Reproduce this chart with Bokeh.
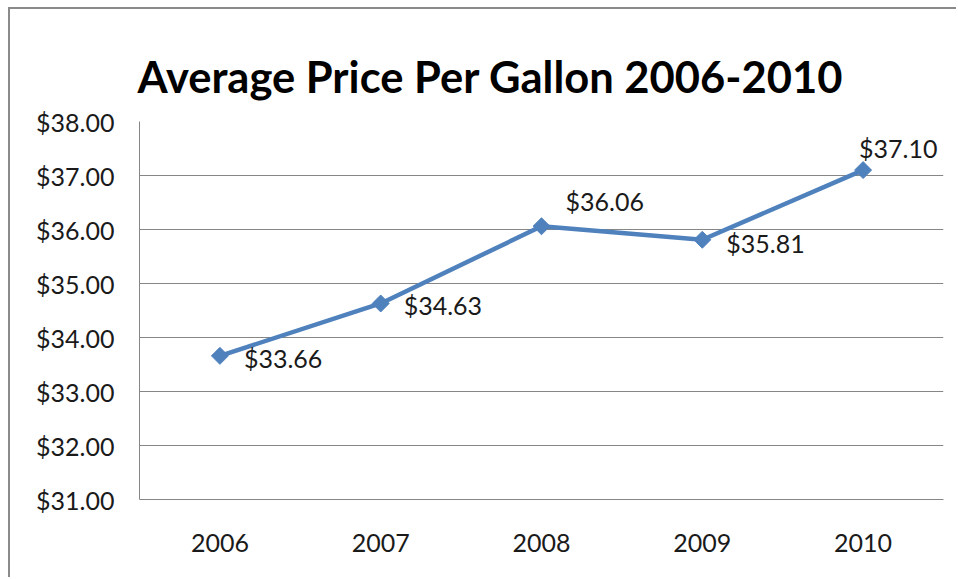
from bokeh.plotting import figure
from bokeh.models import ColumnDataSource, FixedTicker, NumeralTickFormatter, Range1d
from bokeh.core.properties import value
from bokeh.embed import file_html
from bokeh.resources import INLINE
import math

title_text = "Average Price Per Gallon 2006-2010"
years = ["2006", "2007", "2008", "2009", "2010"]
prices = [33.66, 34.63, 36.06, 35.81, 37.10]
price_labels = ["$33.66", "$34.63", "$36.06", "$35.81", "$37.10"]
y_ticks = [31, 32, 33, 34, 35, 36, 37, 38]

# label placement (screen pixel offsets, styling only)
label_dx = [24, 23, 24, 24, -4]
label_dy = [2, 2, -25, 3, -22]

FONT = "Lato"
GRID = "#868686"
BLUE = "#4F81BD"

src = ColumnDataSource(dict(x=years, y=prices, t=price_labels, dx=label_dx, dy=label_dy))

p = figure(width=948, height=570, x_range=years, y_range=Range1d(31, 38),
           output_backend="svg", toolbar_location=None, title=title_text,
           min_border_left=129, min_border_top=112, min_border_right=15, min_border_bottom=80)
p.styles = {"border-left": "2px solid #8a8a8a", "border-top": "2px solid #8a8a8a",
            "margin-left": "8px", "margin-top": "7px"}

p.title.text_font = FONT
p.title.text_font_size = "43.5px"
p.title.text_font_style = "bold"
p.title.text_color = "#000000"
p.title.align = "left"
p.title.offset = -2
p.title.vertical_align = "top"
p.title.standoff = 36

p.outline_line_color = None
p.background_fill_color = "white"
p.border_fill_color = "white"

p.xgrid.grid_line_color = None
p.ygrid.grid_line_color = GRID
p.ygrid.grid_line_width = 1
p.ygrid.ticker = FixedTicker(ticks=y_ticks)

p.yaxis.ticker = FixedTicker(ticks=y_ticks)
p.yaxis.formatter = NumeralTickFormatter(format="$0.00")
for ax in (p.xaxis[0], p.yaxis[0]):
    ax.axis_line_color = GRID
    ax.axis_line_width = 1
    ax.major_tick_line_color = None
    ax.minor_tick_line_color = None
    ax.major_label_text_font = FONT
    ax.major_label_text_font_size = "25px"
    ax.major_label_text_color = "#1a1a1a"
p.yaxis.major_label_standoff = 19
p.xaxis.major_label_standoff = 28
p.x_range.range_padding = 0

p.line("x", "y", source=src, line_color=BLUE, line_width=4.5)
p.scatter("x", "y", source=src, marker="square", size=12, angle=math.pi / 4,
          fill_color=BLUE, line_color=BLUE)
p.text("x", "y", text="t", source=src, x_offset="dx", y_offset="dy",
       text_font=value(FONT), text_font_size="25px", text_color="#1a1a1a",
       text_align="left", text_baseline="middle")

open("out.html", "w").write(file_html(p, INLINE))
